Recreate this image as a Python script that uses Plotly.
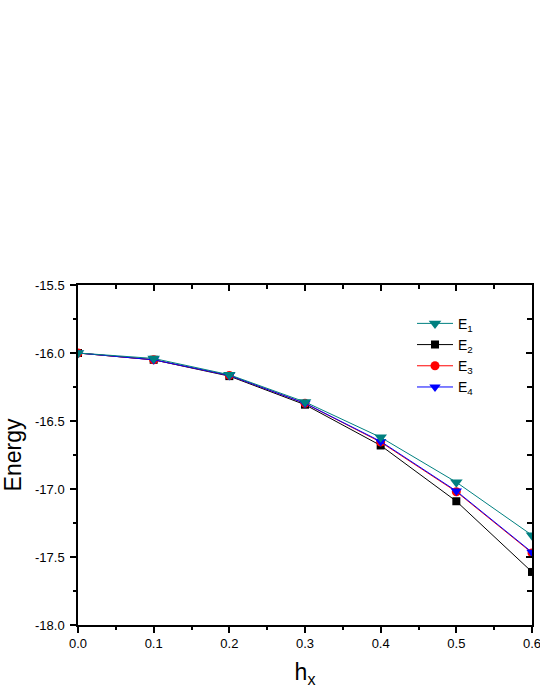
import plotly.graph_objects as go

# h_x values and the four energy levels
hx = [0.0, 0.1, 0.2, 0.3, 0.4, 0.5, 0.6]
e1 = [-16.00, -16.04, -16.16, -16.36, -16.62, -16.95, -17.34]
e2 = [-16.00, -16.05, -16.17, -16.38, -16.68, -17.09, -17.61]
e3 = [-16.00, -16.05, -16.165, -16.37, -16.655, -17.02, -17.47]
e4 = [-16.00, -16.05, -16.165, -16.37, -16.65, -17.015, -17.465]

# tick labels (plain hyphen, as in the original)
x_ticks = [0.0, 0.1, 0.2, 0.3, 0.4, 0.5, 0.6]
x_labels = ["0.0", "0.1", "0.2", "0.3", "0.4", "0.5", "0.6"]
y_ticks = [-18.0, -17.5, -17.0, -16.5, -16.0, -15.5]
y_labels = ["-18.0", "-17.5", "-17.0", "-16.5", "-16.0", "-15.5"]

FONT = "Liberation Sans, Arial, sans-serif"

series = [
    # name, values, colour, symbol, size, legend rank
    ("E<sub>2</sub>", e2, "#000000", "square", 8, 2),
    ("E<sub>3</sub>", e3, "#ff0000", "circle", 9, 3),
    ("E<sub>4</sub>", e4, "#0000ff", "triangle-down", 10, 4),
    ("E<sub>1</sub>", e1, "#008080", "triangle-down", 11, 1),
]

fig = go.Figure()
for name, vals, color, symbol, size, rank in series:
    fig.add_trace(go.Scatter(
        x=hx, y=vals, name=name, mode="lines+markers",
        line=dict(color=color, width=1),
        marker=dict(color=color, symbol=symbol, size=size, line=dict(width=0)),
        legendrank=rank,
    ))

# invisible trace so the top/right frame axes get drawn
fig.add_trace(go.Scatter(
    x=hx, y=e1, xaxis="x2", yaxis="y2", mode="markers",
    marker=dict(opacity=0), showlegend=False, hoverinfo="skip",
))

ax_common = dict(showline=True, linecolor="black", linewidth=1.5,
                 showgrid=False, zeroline=False, tickcolor="black",
                 tickwidth=1.5)

fig.update_layout(
    width=540, height=699,
    paper_bgcolor="white", plot_bgcolor="white",
    font=dict(family=FONT, size=13, color="black"),
    margin=dict(l=78, r=8, t=285, b=74),
    showlegend=True,
    legend=dict(x=0.7357, y=0.933, xanchor="left", yanchor="top",
                bgcolor="rgba(0,0,0,0)", font=dict(size=14, family=FONT),
                itemwidth=36, tracegroupgap=0),
    xaxis=dict(range=[0, 0.6], tickmode="array", tickvals=x_ticks,
               ticktext=x_labels, ticks="outside", ticklen=6,
               ticklabeloverflow="allow", mirror=True,
               minor=dict(tick0=0, dtick=0.05, ticks="outside", ticklen=3,
                          tickcolor="black", tickwidth=1.5),
               title=dict(text="h<sub>x</sub>", font=dict(size=23), standoff=14),
               automargin=False, **ax_common),
    yaxis=dict(range=[-18.0, -15.5], tickmode="array", tickvals=y_ticks,
               ticktext=y_labels, ticks="outside", ticklen=6,
               ticklabelstandoff=3, mirror=True,
               minor=dict(tick0=0, dtick=0.25, ticks="outside", ticklen=3,
                          tickcolor="black", tickwidth=1.5),
               title=dict(text="Energy", font=dict(size=23), standoff=26),
               automargin=False, **ax_common),
    xaxis2=dict(range=[0, 0.6], dtick=0.1, overlaying="x", side="top",
                anchor="y2", ticks="inside", ticklen=6, showticklabels=False,
                minor=dict(tick0=0, dtick=0.05, ticks="inside", ticklen=4,
                           tickcolor="black", tickwidth=1.5),
                **ax_common),
    yaxis2=dict(range=[-18.0, -15.5], dtick=0.5, overlaying="y", side="right",
                anchor="x2", ticks="inside", ticklen=6, showticklabels=False,
                minor=dict(tick0=0, dtick=0.25, ticks="inside", ticklen=5,
                           tickcolor="black", tickwidth=1.5),
                **ax_common),
)

# drop the page's default 8px body margin so the figure fills the window
fig.write_html("out.html", config={"displayModeBar": False},
               post_script="document.body.style.margin = '0';")
